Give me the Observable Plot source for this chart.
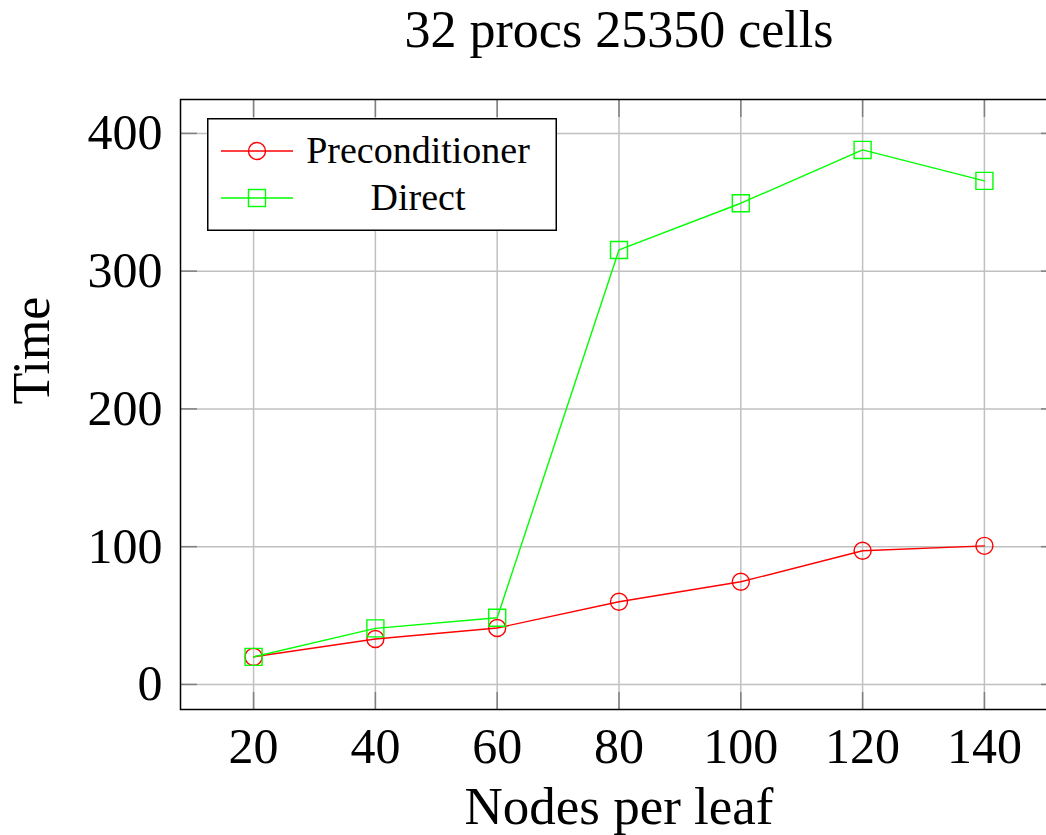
<!DOCTYPE html>
<html>
<head>
<meta charset="utf-8">
<script src="https://cdn.jsdelivr.net/npm/d3@7"></script>
<script src="https://cdn.jsdelivr.net/npm/@observablehq/plot@0.6"></script>
<style>
  html, body { margin: 0; padding: 0; background: #fff; overflow: hidden; }
  #wrap { position: relative; width: 1046px; height: 835px; overflow: hidden; }
</style>
</head>
<body>
<div id="wrap"></div>
<script>
const title = "32 procs 25350 cells";
const xLabel = "Nodes per leaf";
const yLabel = "Time";
const nodes = [20, 40, 60, 80, 100, 120, 140];
const precond = [20, 33, 41, 60, 74.5, 97, 100.6];
const direct = [20, 40.7, 48.4, 315.4, 349.3, 388, 365.5];
const xTicks = [20, 40, 60, 80, 100, 120, 140];
const yTicks = [0, 100, 200, 300, 400];
const seriesNames = ["Preconditioner", "Direct"];
const seriesColors = ["#ff0000", "#00ff00"];

const rows = nodes.map((n, i) => ({nodes: n, precond: precond[i], direct: direct[i]}));

const FONT = "'Liberation Serif', 'Times New Roman', serif";
const tickColor = "#808080";
const gridColor = "#c0c0c0";

const chart = Plot.plot({
  width: 1058,
  height: 835,
  marginLeft: 180,
  marginRight: 1,
  marginTop: 99,
  marginBottom: 126,
  style: {fontFamily: FONT, fontSize: "50px", color: "black", background: "white", maxWidth: "none"},
  x: {domain: [8, 152]},
  y: {domain: [-18.2, 424.6]},
  marks: [
    Plot.gridX(xTicks, {stroke: gridColor, strokeOpacity: 1, strokeWidth: 1.5}),
    Plot.gridY(yTicks, {stroke: gridColor, strokeOpacity: 1, strokeWidth: 1.5}),
    Plot.axisX(xTicks, {anchor: "bottom", tickSize: -17, tickFormat: () => "", label: null, stroke: tickColor, strokeWidth: 1.5}),
    Plot.axisX(xTicks, {anchor: "top", tickSize: -17, tickFormat: () => "", label: null, stroke: tickColor, strokeWidth: 1.5}),
    Plot.axisY(yTicks, {anchor: "left", tickSize: -17, tickFormat: () => "", label: null, stroke: tickColor, strokeWidth: 1.5}),
    Plot.axisY(yTicks, {anchor: "right", tickSize: -17, tickFormat: () => "", label: null, stroke: tickColor, strokeWidth: 1.5}),
    Plot.axisX(xTicks, {anchor: "bottom", tickSize: 0, tickPadding: 18, label: null, fontSize: 50}),
    Plot.axisY(yTicks, {anchor: "left", tickSize: 0, tickPadding: 18, label: null, fontSize: 50}),
    Plot.frame({stroke: "black", strokeWidth: 1.5}),
    Plot.line(rows, {x: "nodes", y: "precond", stroke: seriesColors[0], strokeWidth: 1.4}),
    Plot.dot(rows, {x: "nodes", y: "precond", stroke: seriesColors[0], strokeWidth: 1.4, r: 8.5, symbol: "circle", fill: "none"}),
    Plot.line(rows, {x: "nodes", y: "direct", stroke: seriesColors[1], strokeWidth: 1.4}),
    Plot.dot(rows, {x: "nodes", y: "direct", stroke: seriesColors[1], strokeWidth: 1.4, r: 9.6, symbol: "square", fill: "none"}),
    Plot.text([title], {frameAnchor: "top", dy: -69, fontSize: 52, lineAnchor: "middle"}),
    Plot.text([xLabel], {frameAnchor: "bottom", dy: 98, fontSize: 53, lineAnchor: "middle"}),
    Plot.text([yLabel], {frameAnchor: "left", dx: -148, rotate: -90, fontSize: 52, lineAnchor: "middle"})
  ]
});
chart.style.maxWidth = "none";

const wrap = document.getElementById("wrap");
wrap.appendChild(chart);

// Legend (HTML/SVG overlay)
const lw = 350, lh = 113;
const leg = d3.create("svg").attr("id", "legend").attr("width", lw).attr("height", lh)
  .style("position", "absolute").style("left", "207px").style("top", "118px");
leg.append("rect").attr("x", 0.75).attr("y", 0.75).attr("width", lw - 1.5).attr("height", lh - 1.5)
  .attr("fill", "white").attr("stroke", "black").attr("stroke-width", 1.5);
const rowY = [33, 80];
seriesNames.forEach((name, i) => {
  const y = rowY[i];
  leg.append("line").attr("x1", 14).attr("x2", 86).attr("y1", y).attr("y2", y)
    .attr("stroke", seriesColors[i]).attr("stroke-width", 1.4);
  if (i === 0) {
    leg.append("circle").attr("cx", 50).attr("cy", y).attr("r", 8.5)
      .attr("fill", "none").attr("stroke", seriesColors[i]).attr("stroke-width", 1.4);
  } else {
    leg.append("rect").attr("x", 50 - 8.5).attr("y", y - 8.5).attr("width", 17).attr("height", 17)
      .attr("fill", "none").attr("stroke", seriesColors[i]).attr("stroke-width", 1.4);
  }
  leg.append("text").attr("x", 211).attr("y", y).attr("dy", "0.32em")
    .attr("text-anchor", "middle").attr("font-family", FONT).attr("font-size", 38)
    .attr("fill", "black").text(name);
});
wrap.appendChild(leg.node());
</script>
</body>
</html>
